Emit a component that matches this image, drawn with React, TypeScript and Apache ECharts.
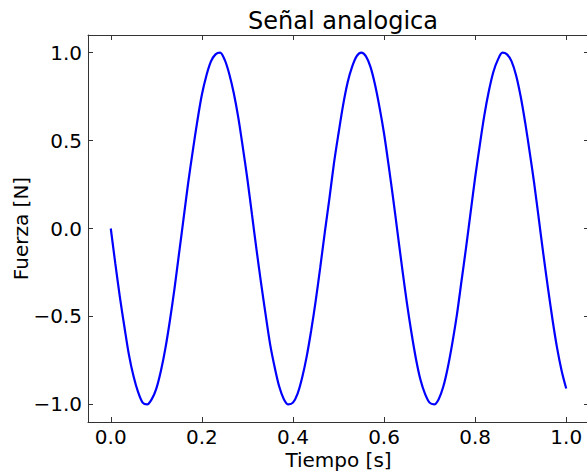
import React, { useEffect, useRef } from "react";
import * as echarts from "echarts";

// Time samples (s) and force values (N)
const tiempo: number[] = [
  0.0, 0.01, 0.02, 0.03, 0.04, 0.05, 0.06, 0.07, 0.08, 0.09,
  0.1, 0.11, 0.12, 0.13, 0.14, 0.15, 0.16, 0.17, 0.18, 0.19,
  0.2, 0.21, 0.22, 0.23, 0.24, 0.25, 0.26, 0.27, 0.28, 0.29,
  0.3, 0.31, 0.32, 0.33, 0.34, 0.35, 0.36, 0.37, 0.38, 0.39,
  0.4, 0.41, 0.42, 0.43, 0.44, 0.45, 0.46, 0.47, 0.48, 0.49,
  0.5, 0.51, 0.52, 0.53, 0.54, 0.55, 0.56, 0.57, 0.58, 0.59,
  0.6, 0.61, 0.62, 0.63, 0.64, 0.65, 0.66, 0.67, 0.68, 0.69,
  0.7, 0.71, 0.72, 0.73, 0.74, 0.75, 0.76, 0.77, 0.78, 0.79,
  0.8, 0.81, 0.82, 0.83, 0.84, 0.85, 0.86, 0.87, 0.88, 0.89,
  0.9, 0.91, 0.92, 0.93, 0.94, 0.95, 0.96, 0.97, 0.98, 0.99, 1.0,
];
const fuerza: number[] = [
  0.0, -0.2, -0.39, -0.56, -0.72, -0.84, -0.93, -0.99, -1.0, -0.97,
  -0.91, -0.81, -0.68, -0.52, -0.34, -0.14, 0.06, 0.26, 0.44, 0.61,
  0.76, 0.87, 0.95, 0.99, 1.0, 0.96, 0.88, 0.77, 0.63, 0.46,
  0.28, 0.08, -0.12, -0.31, -0.49, -0.66, -0.79, -0.9, -0.97, -1.0,
  -0.99, -0.94, -0.85, -0.73, -0.58, -0.41, -0.22, -0.02, 0.17, 0.37,
  0.54, 0.7, 0.83, 0.92, 0.98, 1.0, 0.98, 0.92, 0.82, 0.69,
  0.54, 0.36, 0.17, -0.03, -0.23, -0.42, -0.59, -0.74, -0.86, -0.94,
  -0.99, -1.0, -0.97, -0.9, -0.79, -0.65, -0.49, -0.3, -0.11, 0.09,
  0.29, 0.47, 0.64, 0.78, 0.89, 0.96, 1.0, 0.99, 0.95, 0.87,
  0.75, 0.6, 0.43, 0.25, 0.05, -0.15, -0.34, -0.52, -0.68, -0.81, -0.91,
];
const xRange: [number, number] = [-0.05, 1.05];
const yRange: [number, number] = [-1.1, 1.1];

const FONT = "DejaVu Sans";
const AXIS_COLOR = "#333";

const fmt = (v: number, step: number) => {
  const r = Math.round(v / step) * step;
  if (Math.abs(r - v) > 1e-6) return "";
  return r.toFixed(1).replace("-", "\u2212");
};

export default function App() {
  const ref = useRef<HTMLDivElement>(null);
  useEffect(() => {
    document.body.style.margin = "0";
    if (!ref.current) return;
    const chart = echarts.init(ref.current, undefined, { renderer: "svg" });
    const tick = { show: true, inside: true, length: 5, lineStyle: { color: AXIS_COLOR, width: 1 } };
    const line = { show: true, onZero: false, lineStyle: { color: AXIS_COLOR, width: 1 } };
    chart.setOption({
      animation: false,
      backgroundColor: "#fff",
      title: {
        text: "Señal analogica",
        left: 338,
        textAlign: "center",
        top: 4,
        textStyle: { fontFamily: FONT, fontSize: 24, fontWeight: "normal", color: "#000" },
      },
      grid: {
        left: 88,
        top: 35,
        width: 501,
        height: 387,
        show: false,
        containLabel: false,
        outerBoundsMode: "none",
      },
      xAxis: [
        {
          type: "value",
          min: xRange[0],
          max: xRange[1],
          splitNumber: 5,
          position: "bottom",
          name: "Tiempo [s]",
          nameLocation: "middle",
          nameGap: 28,
          nameMoveOverlap: false,
          nameTextStyle: { fontFamily: FONT, fontSize: 20, color: "#000" },
          axisLine: line,
          axisTick: tick,
          splitLine: { show: false },
          axisLabel: {
            fontFamily: FONT,
            fontSize: 20,
            color: "#000",
            margin: 5,
            showMinLabel: false,
            showMaxLabel: false,
            formatter: (v: number) => fmt(v, 0.2),
          },
        },
        {
          type: "value",
          min: xRange[0],
          max: xRange[1],
          splitNumber: 5,
          position: "top",
          axisLine: line,
          axisTick: tick,
          splitLine: { show: false },
          axisLabel: { show: false },
        },
      ],
      yAxis: [
        {
          type: "value",
          min: yRange[0],
          max: yRange[1],
          splitNumber: 4,
          position: "left",
          name: "Fuerza [N]",
          nameLocation: "middle",
          nameGap: 57,
          nameMoveOverlap: false,
          nameTextStyle: { fontFamily: FONT, fontSize: 20, color: "#000" },
          axisLine: line,
          axisTick: tick,
          splitLine: { show: false },
          axisLabel: {
            fontFamily: FONT,
            fontSize: 20,
            color: "#000",
            margin: 6,
            showMinLabel: false,
            showMaxLabel: false,
            formatter: (v: number) => fmt(v, 0.5),
          },
        },
        {
          type: "value",
          min: yRange[0],
          max: yRange[1],
          splitNumber: 4,
          position: "right",
          axisLine: line,
          axisTick: tick,
          splitLine: { show: false },
          axisLabel: { show: false },
        },
      ],
      series: [
        {
          type: "line",
          data: tiempo.map((t, i) => [t, fuerza[i]]),
          showSymbol: false,
          symbol: "none",
          smooth: 0.3,
          lineStyle: { color: "#0000ff", width: 2.2 },
          xAxisIndex: 0,
          yAxisIndex: 0,
        },
      ],
    });
    return () => chart.dispose();
  }, []);
  return <div ref={ref} style={{ width: 587, height: 472 }} />;
}
